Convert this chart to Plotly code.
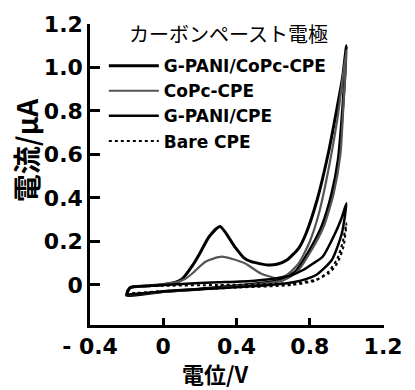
import plotly.graph_objects as go

# ---- data (potential V / current uA), forward scan then reverse scan ----
gcopc_v = [-0.20, -0.18, -0.10, 0.00, 0.06, 0.10, 0.16, 0.20, 0.25, 0.31, 0.39, 0.44, 0.48, 0.57, 0.62, 0.675, 0.74, 0.78, 0.84, 0.905, 0.95, 0.98, 1.00,
           0.98, 0.955, 0.92, 0.865, 0.79, 0.72, 0.62, 0.40, 0.20, 0.00, -0.20]
gcopc_i = [-0.048, -0.012, -0.005, 0.002, 0.010, 0.025, 0.090, 0.146, 0.222, 0.269, 0.176, 0.125, 0.107, 0.092, 0.095, 0.115, 0.170, 0.238, 0.392, 0.622, 0.820, 0.960, 1.100,
           0.820, 0.576, 0.420, 0.269, 0.147, 0.060, 0.020, -0.004, -0.018, -0.030, -0.048]

copc_v = [-0.20, -0.18, -0.10, 0.00, 0.07, 0.12, 0.16, 0.23, 0.32, 0.445, 0.53, 0.62, 0.675, 0.74, 0.80, 0.85, 0.89, 0.95, 1.00,
          0.985, 0.967, 0.93, 0.876, 0.80, 0.73, 0.65, 0.40, 0.20, 0.00, -0.20]
copc_i = [-0.042, -0.013, -0.005, 0.003, 0.012, 0.028, 0.054, 0.107, 0.130, 0.100, 0.054, 0.031, 0.046, 0.100, 0.200, 0.330, 0.480, 0.760, 1.080,
          0.850, 0.600, 0.420, 0.269, 0.147, 0.060, 0.020, -0.006, -0.020, -0.032, -0.046]

gpani_v = [-0.20, -0.18, -0.10, 0.10, 0.30, 0.50, 0.62, 0.70, 0.763, 0.82, 0.87, 0.93, 0.97, 1.00,
           0.975, 0.92, 0.834, 0.75, 0.675, 0.50, 0.20, 0.00, -0.20]
gpani_i = [-0.040, -0.012, -0.005, 0.005, 0.012, 0.020, 0.031, 0.045, 0.069, 0.100, 0.130, 0.223, 0.300, 0.376,
           0.238, 0.115, 0.046, 0.020, 0.008, -0.005, -0.020, -0.030, -0.045]

bare_v = [-0.20, -0.18, 0.00, 0.30, 0.60, 0.75, 0.834, 0.905, 0.95, 0.984, 1.00,
          0.98, 0.95, 0.90, 0.83, 0.70, 0.40, 0.00, -0.20]
bare_i = [-0.030, -0.012, -0.004, 0.000, 0.005, 0.012, 0.025, 0.054, 0.100, 0.176, 0.284,
          0.200, 0.120, 0.060, 0.020, 0.000, -0.012, -0.028, -0.040]

names = ["G-PANI/CoPc-CPE", "CoPc-CPE", "G-PANI/CPE", "Bare CPE"]
x_ticks = [-0.4, 0, 0.4, 0.8, 1.2]
x_ticktext = ["- 0.4", "0", "0.4", "0.8", "1.2"]
y_ticks = [0, 0.2, 0.4, 0.6, 0.8, 1.0, 1.2]
y_ticktext = ["0", "0.2", "0.4", "0.6", "0.8", "1.0", "1.2"]

series = [
    (gcopc_v, gcopc_i, names[0], dict(color="#000000", width=3, dash="solid")),
    (copc_v, copc_i, names[1], dict(color="#555555", width=2.2, dash="solid")),
    (gpani_v, gpani_i, names[2], dict(color="#000000", width=2.5, dash="solid")),
    (bare_v, bare_i, names[3], dict(color="#000000", width=2, dash="dot")),
]

fig = go.Figure()
for v, i, n, ln in series:
    fig.add_trace(go.Scatter(x=v, y=i, name=n, mode="lines",
                             line=dict(shape="spline", smoothing=0.6, **ln)))

latin = "DejaVu Sans, Liberation Sans, Arial, sans-serif"
tickfont = dict(family=latin, size=22, color="black", weight="bold")
cjk = "Noto Sans CJK JP, sans-serif"

fig.update_layout(
    width=415, height=390,
    margin=dict(l=90, r=25, t=24, b=65),
    paper_bgcolor="white", plot_bgcolor="white",
    showlegend=True,
    legend=dict(x=0.047, y=0.92, xanchor="left", yanchor="top",
                bgcolor="rgba(0,0,0,0)", itemwidth=50,
                font=dict(family=latin, size=17, color="black", weight="bold")),
    xaxis=dict(range=[-0.4, 1.205], tickvals=x_ticks, ticktext=x_ticktext,
               showline=True, linecolor="black", linewidth=2.5, mirror=False,
               ticks="inside", ticklen=7, tickwidth=2.5, tickcolor="black",
               showgrid=False, zeroline=False, tickfont=tickfont),
    yaxis=dict(range=[-0.184, 1.2], tickvals=y_ticks, ticktext=y_ticktext,
               showline=True, linecolor="black", linewidth=2.5, mirror=False,
               ticks="inside", ticklen=10, tickwidth=2.5, tickcolor="black",
               showgrid=False, zeroline=False, tickfont=tickfont),
    annotations=[
        dict(text="電流/μA", xref="paper", yref="paper", x=-0.215, y=0.58,
             textangle=-90, showarrow=False, xanchor="center", yanchor="middle",
             font=dict(family=cjk, size=28, color="black", weight="bold")),
        dict(text="電位/V", xref="paper", yref="paper", x=0.427, y=-0.16,
             showarrow=False, xanchor="center", yanchor="middle",
             font=dict(family=cjk, size=22, color="black", weight="bold")),
        dict(text="カーボンペースト電極", xref="paper", yref="paper", x=0.47, y=0.97,
             showarrow=False, xanchor="center", yanchor="middle",
             font=dict(family=cjk, size=20, color="black")),
    ],
)

fig.write_html("out.html")
